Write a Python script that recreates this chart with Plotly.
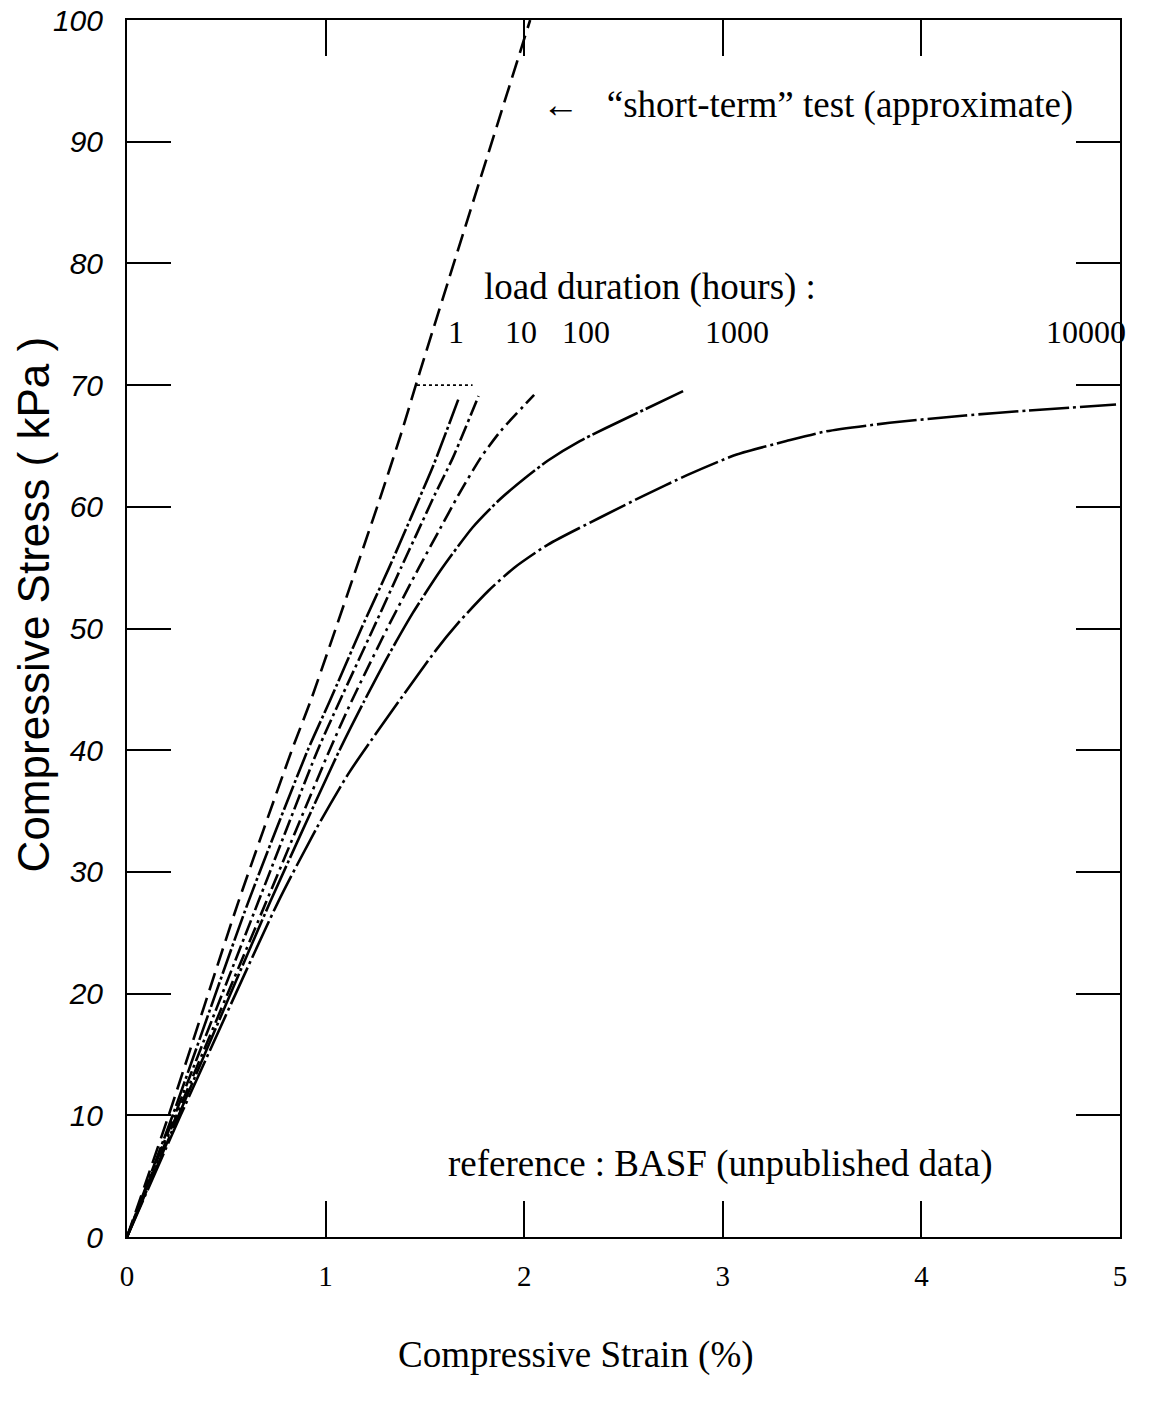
import plotly.graph_objects as go

# ---- data (strain %, stress kPa) ----
short_x = [0, 0.21, 0.56, 0.83, 0.93, 1.27, 1.38, 1.475, 2.03]
short_y = [0, 10, 27.5, 40, 44.3, 60.5, 66.0, 71.1, 100]

h1_x = [0, 0.23, 0.61, 0.91, 1.02, 1.18, 1.32, 1.44, 1.545, 1.67]
h1_y = [0, 10, 27.5, 40, 44, 50, 55, 59.5, 63.5, 68.9]

h10_x = [0, 0.24, 0.66, 0.96, 1.07, 1.24, 1.38, 1.465, 1.55, 1.64, 1.77]
h10_y = [0, 10, 27.5, 40, 44, 50, 55, 58, 61, 64, 69.1]

h100_x = [0, 0.25, 0.70, 1.02, 1.13, 1.31, 1.47, 1.57, 1.67, 1.78, 1.88, 2.05]
h100_y = [0, 10, 27.5, 40, 44, 50, 55, 58, 61, 64, 66.2, 69.2]

h1000_x = [0, 0.26, 0.72, 1.07, 1.19, 1.32, 1.44, 1.58, 1.74, 1.87, 2.00,
           2.12, 2.28, 2.53, 2.80]
h1000_y = [0, 10, 27.5, 40, 43.9, 47.9, 51.3, 54.8, 58.3, 60.5, 62.3,
           63.8, 65.4, 67.4, 69.5]

h10000_x = [0, 0.27, 0.76, 0.955, 1.12, 1.55, 1.67, 1.82, 1.95, 2.12,
            2.38, 2.60, 2.82, 3.07, 3.32, 3.52, 3.84, 4.22, 4.53, 4.98]
h10000_y = [0, 10, 27.5, 33.6, 38.2, 48.1, 50.5, 53.1, 55.0, 56.9,
            59.1, 60.9, 62.6, 64.3, 65.4, 66.2, 66.9, 67.5, 67.9, 68.4]

level_x = [1.46, 1.74]
level_y = [70, 70]

x_ticks = [0, 1, 2, 3, 4, 5]
y_ticks = [0, 10, 20, 30, 40, 50, 60, 70, 80, 90, 100]

duration_labels = ["1", "10", "100", "1000", "10000"]
duration_label_x = [1.655, 1.985, 2.31, 3.07, 4.83]

series = [
    (short_x, short_y, "18px,8px"),
    (h1_x, h1_y, "26px,3px,3px,3px"),
    (h10_x, h10_y, "16px,4px,3px,4px"),
    (h100_x, h100_y, "16px,5px,3px,5px"),
    (h1000_x, h1000_y, "50px,3px,3px,3px"),
    (h10000_x, h10000_y, "40px,4px,3px,4px"),
]

fig = go.Figure()
for xs, ys, dash in series:
    fig.add_trace(go.Scatter(x=xs, y=ys, mode="lines",
                             line=dict(color="black", width=2.6, dash=dash,
                                       shape="spline", smoothing=0.6),
                             hoverinfo="skip"))
fig.add_trace(go.Scatter(x=level_x, y=level_y, mode="lines",
                         line=dict(color="black", width=1.6, dash="dot"),
                         hoverinfo="skip"))

serif = "Liberation Serif"
annos = [
    dict(x=2.08, y=93.0, text="←   “short-term” test (approximate)",
         xanchor="left", font=dict(family=serif, size=37)),
    dict(x=1.79, y=78.1, text="load duration (hours) :",
         xanchor="left", font=dict(family=serif, size=37)),
    dict(x=1.605, y=6.0, text="reference : BASF (unpublished data)",
         xanchor="left", font=dict(family=serif, size=37)),
]
for lab, lx in zip(duration_labels, duration_label_x):
    annos.append(dict(x=lx, y=74.4, text=lab, xanchor="center",
                      font=dict(family=serif, size=32)))
for a in annos:
    a.update(xref="x", yref="y", showarrow=False, yanchor="middle")
    a["font"]["color"] = "black"

# axis titles placed as paper annotations (positions as in the original)
annos.append(dict(text="Compressive Strain (%)", xref="paper", yref="paper",
                  x=0.452, y=0, yshift=-118, xanchor="center",
                  yanchor="middle", showarrow=False,
                  font=dict(family=serif, size=37, color="black")))
annos.append(dict(text="Compressive Stress ( kPa )", xref="paper",
                  yref="paper", x=0, xshift=-94, y=0.519, textangle=-90,
                  xanchor="center", yanchor="middle", showarrow=False,
                  font=dict(family="Liberation Sans", size=44,
                            color="black")))

fig.update_layout(
    width=1156, height=1402,
    margin=dict(l=127, r=36, t=20, b=165),
    paper_bgcolor="white", plot_bgcolor="white",
    showlegend=False,
    annotations=annos,
    xaxis=dict(range=[0, 5], tickvals=x_ticks, ticks="inside", ticklen=36,
               tickwidth=2, tickcolor="black", showline=True, linecolor="black",
               linewidth=2, mirror="ticks", showgrid=False, zeroline=False,
               automargin=False, ticklabelstandoff=12,
               tickfont=dict(family=serif, size=29, color="black")),
    yaxis=dict(range=[0, 100], tickvals=y_ticks, ticks="inside", ticklen=44,
               tickwidth=2, tickcolor="black", showline=True, linecolor="black",
               linewidth=2, mirror="ticks", showgrid=False, zeroline=False,
               automargin=False, ticklabelstandoff=16,
               tickfont=dict(family="Liberation Sans", size=30, color="black",
                             style="italic")),
)

fig.write_html("out.html")
